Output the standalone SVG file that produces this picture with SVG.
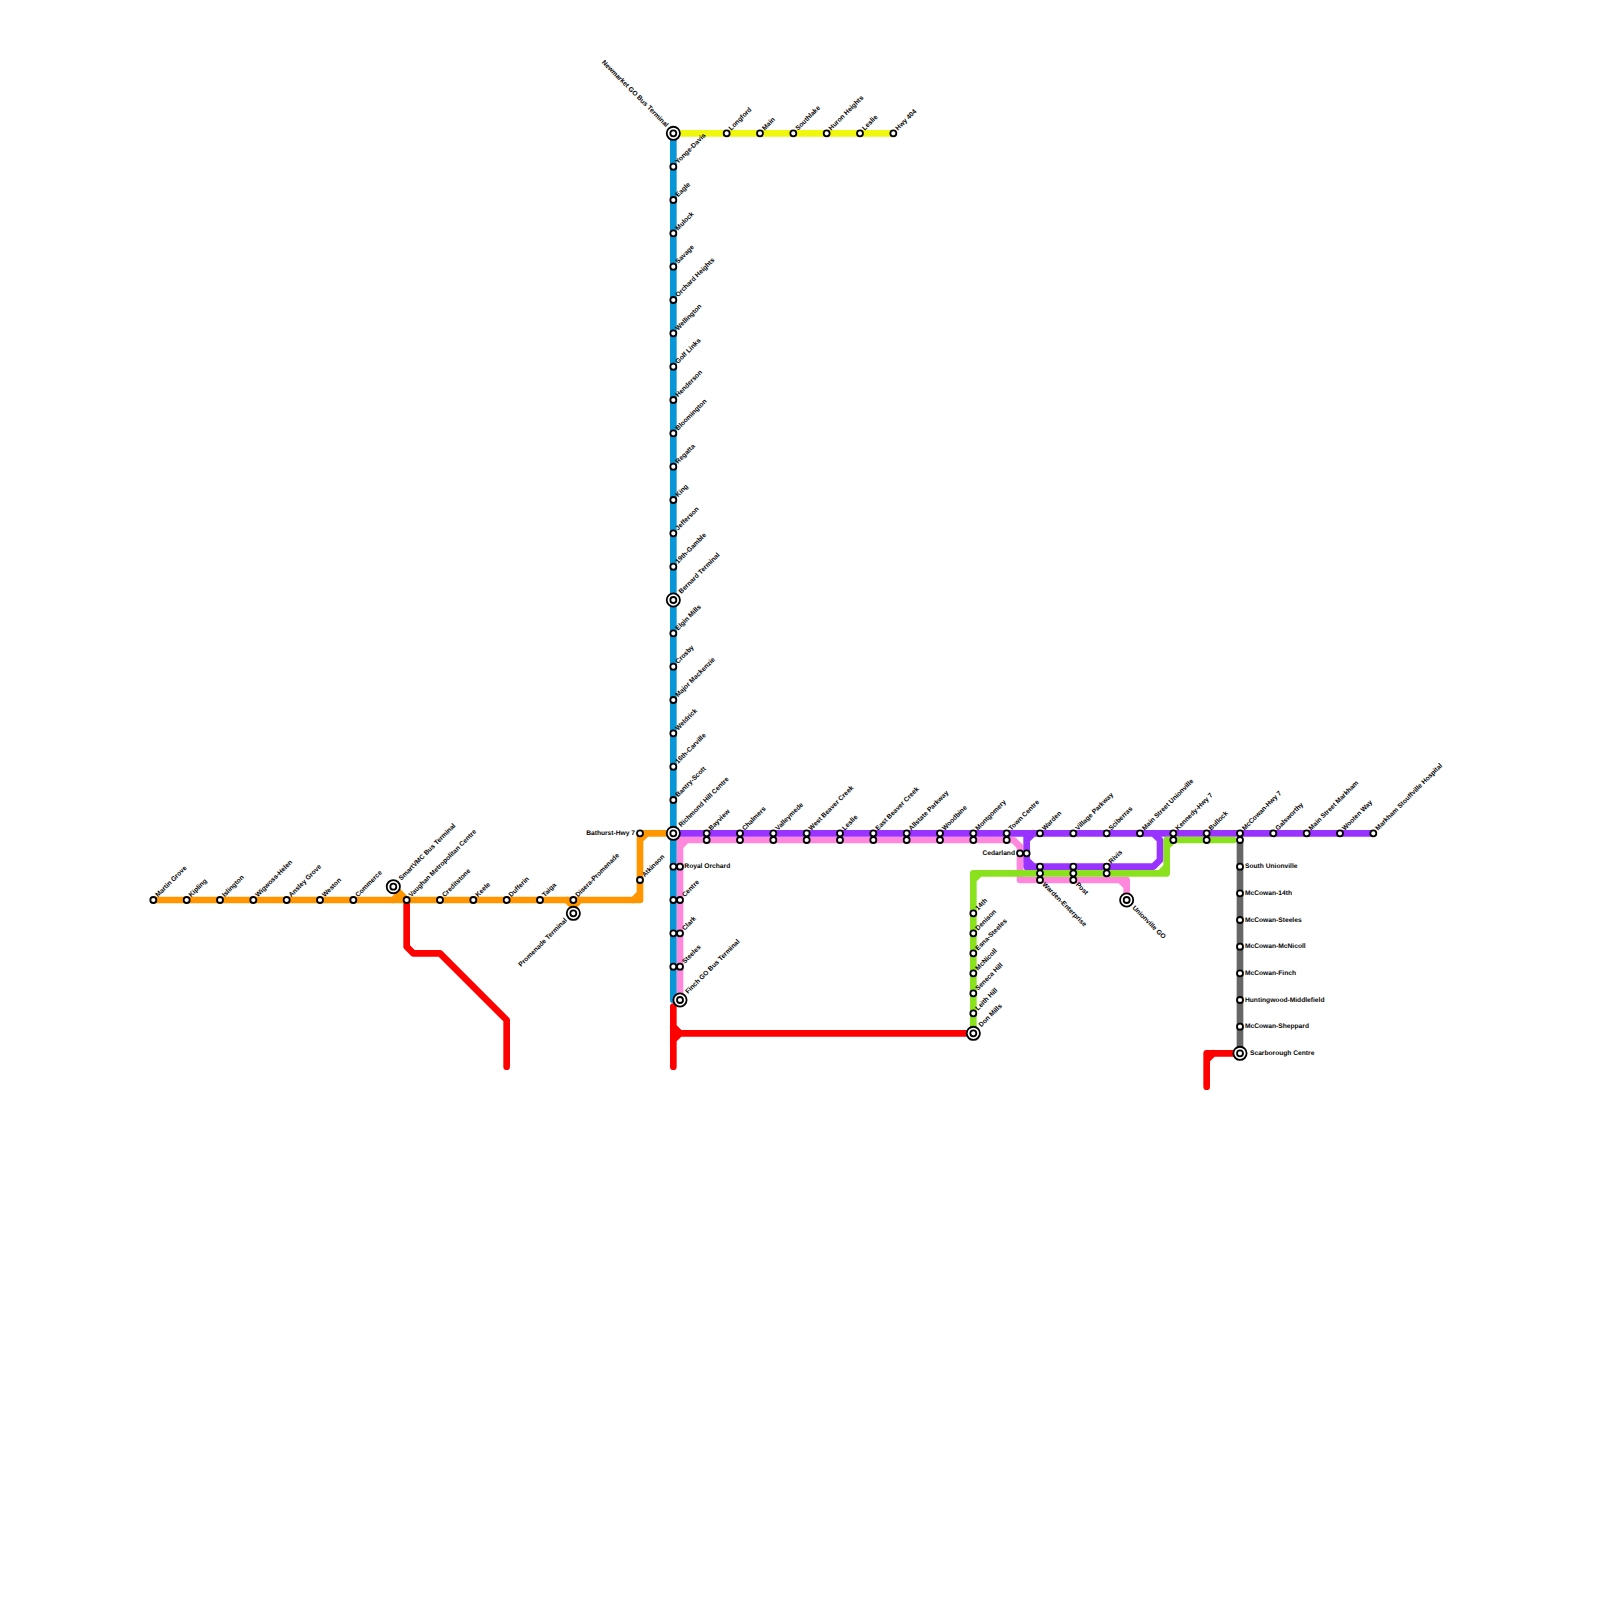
<svg xmlns="http://www.w3.org/2000/svg" width="1600" height="1600" viewBox="0 0 1600 1600">
<style>
text{font-family:"Liberation Sans",Arial,sans-serif;font-size:6.67px;font-weight:bold;fill:#000;text-rendering:geometricPrecision;opacity:.99}
.line{fill:none;stroke-width:6.67;stroke-linecap:round;stroke-linejoin:round}
.ne{transform:rotate(-45deg) translate(5.2px,1.41px)}
.nx{transform:rotate(-45deg) translate(9.9px,1.41px)}
.se{transform:rotate(45deg) translate(5px,2px)}
.sx{transform:rotate(45deg) translate(9.5px,2px)}
.nw{text-anchor:end;transform:rotate(45deg) translate(-9.5px,1px)}
.sw{text-anchor:end;transform:rotate(-45deg) translate(-9.5px,1px)}
.w{text-anchor:end;transform:translate(-5px,1.5px)}
.e{transform:translate(5px,1.5px)}
.ex{transform:translate(10px,1.5px)}
</style>
<defs>
<circle id="st" r="3" fill="#fff" stroke="#000" stroke-width="1.8"/>
<g id="ti"><circle r="6.6" fill="#fff" stroke="#000" stroke-width="1.8"/><circle r="3" fill="#fff" stroke="#000" stroke-width="1.8"/></g>
</defs>
<g id="connectors">
<path class="line" stroke="#ff0000" d="M406.67,900L406.67,946.67L413.33,953.33L440,953.33L506.67,1020L506.67,1066.67"/>
<path class="line" stroke="#ff0000" d="M673.33,1006.67L673.33,1066.67M673.33,1026.67L680,1033.33L973.33,1033.33M680,1033.33L673.33,1040"/>
<path class="line" stroke="#ff0000" d="M1240,1053.33L1213.33,1053.33L1206.67,1053.33L1206.67,1060L1213.33,1053.33L1206.67,1060L1206.67,1086.67"/>
<path class="line" stroke="#f0f70e" d="M673.33,133.33L893.33,133.33"/>
<path class="line" stroke="#ff88dd" d="M680,1000L680,846.67L680,840L686.67,840L680,846.67L686.67,840L1013.33,840L1020,846.67L1020,880L1120,880L1126.67,880L1126.67,886.67L1120,880L1126.67,886.67L1126.67,900"/>
<path class="line" stroke="#9933ff" d="M673.33,833.33L1373.33,833.33M1033.33,833.33L1026.67,840L1026.67,833.33M1026.67,840L1026.67,860L1026.67,866.67L1033.33,866.67L1026.67,860L1033.33,866.67L1153.33,866.67L1160,860L1160,840L1153.33,833.33"/>
<path class="line" stroke="#0896d7" d="M673.33,133.33L673.33,1000"/>
<path class="line" stroke="#ff9600" d="M153.33,900L633.33,900L640,900L640,893.33L633.33,900L640,893.33L640,840L640,833.33L646.67,833.33L640,840L646.67,833.33L673.33,833.33M393.33,900L400,893.33L393.33,886.67L406.67,900M566.67,900L573.33,906.67L580,900M573.33,906.67L573.33,913.33"/>
<path class="line" stroke="#8ae21f" d="M973.33,1033.33L973.33,880L973.33,873.33L980,873.33L973.33,880L980,873.33L1160,873.33L1166.67,873.33L1166.67,866.67L1160,873.33L1166.67,866.67L1166.67,846.67L1166.67,840L1173.33,840L1166.67,846.67L1173.33,840L1233.33,840"/>
<path class="line" stroke="#666666" d="M1240,843.33L1240,1053.33"/>
</g>
<g id="nodes">
<g id="n001" transform="translate(673.33 133.33)"><use href="#ti"/><text class="nw">Newmarket GO Bus Terminal</text></g>
<g id="n002" transform="translate(726.67 133.33)"><use href="#st"/><text class="ne">Longford</text></g>
<g id="n003" transform="translate(760 133.33)"><use href="#st"/><text class="ne">Main</text></g>
<g id="n004" transform="translate(793.33 133.33)"><use href="#st"/><text class="ne">Southlake</text></g>
<g id="n005" transform="translate(826.67 133.33)"><use href="#st"/><text class="ne">Huron Heights</text></g>
<g id="n006" transform="translate(860 133.33)"><use href="#st"/><text class="ne">Leslie</text></g>
<g id="n007" transform="translate(893.33 133.33)"><use href="#st"/><text class="ne">Hwy 404</text></g>
<g id="n008" transform="translate(673.33 166.67)"><use href="#st"/><text class="ne">Yonge-Davis</text></g>
<g id="n009" transform="translate(673.33 200)"><use href="#st"/><text class="ne">Eagle</text></g>
<g id="n010" transform="translate(673.33 233.33)"><use href="#st"/><text class="ne">Mulock</text></g>
<g id="n011" transform="translate(673.33 266.67)"><use href="#st"/><text class="ne">Savage</text></g>
<g id="n012" transform="translate(673.33 300)"><use href="#st"/><text class="ne">Orchard Heights</text></g>
<g id="n013" transform="translate(673.33 333.33)"><use href="#st"/><text class="ne">Wellington</text></g>
<g id="n014" transform="translate(673.33 366.67)"><use href="#st"/><text class="ne">Golf Links</text></g>
<g id="n015" transform="translate(673.33 400)"><use href="#st"/><text class="ne">Henderson</text></g>
<g id="n016" transform="translate(673.33 433.33)"><use href="#st"/><text class="ne">Bloomington</text></g>
<g id="n017" transform="translate(673.33 466.67)"><use href="#st"/><text class="ne">Regatta</text></g>
<g id="n018" transform="translate(673.33 500)"><use href="#st"/><text class="ne">King</text></g>
<g id="n019" transform="translate(673.33 533.33)"><use href="#st"/><text class="ne">Jefferson</text></g>
<g id="n020" transform="translate(673.33 566.67)"><use href="#st"/><text class="ne">19th-Gamble</text></g>
<g id="n021" transform="translate(673.33 600)"><use href="#ti"/><text class="nx">Bernard Terminal</text></g>
<g id="n022" transform="translate(673.33 633.33)"><use href="#st"/><text class="ne">Elgin Mills</text></g>
<g id="n023" transform="translate(673.33 666.67)"><use href="#st"/><text class="ne">Crosby</text></g>
<g id="n024" transform="translate(673.33 700)"><use href="#st"/><text class="ne">Major Mackenzie</text></g>
<g id="n025" transform="translate(673.33 733.33)"><use href="#st"/><text class="ne">Weldrick</text></g>
<g id="n026" transform="translate(673.33 766.67)"><use href="#st"/><text class="ne">16th-Carville</text></g>
<g id="n027" transform="translate(673.33 800)"><use href="#st"/><text class="ne">Bantry-Scott</text></g>
<g id="n028" transform="translate(673.33 833.33)"><use href="#ti"/><text class="nx">Richmond Hill Centre</text></g>
<g id="n029" transform="translate(673.33 866.67)"><use href="#st"/><use href="#st" x="6.67"/><text class="ex" x="1">Royal Orchard</text></g>
<g id="n030" transform="translate(680 900)"><use href="#st"/><use href="#st" x="-6.67"/><text class="ne">Centre</text></g>
<g id="n031" transform="translate(680 933.33)"><use href="#st"/><use href="#st" x="-6.67"/><text class="ne">Clark</text></g>
<g id="n032" transform="translate(680 966.67)"><use href="#st"/><use href="#st" x="-6.67"/><text class="ne">Steeles</text></g>
<g id="n033" transform="translate(680 1000)"><use href="#ti"/><text class="nx">Finch GO Bus Terminal</text></g>
<g id="n034" transform="translate(153.33 900)"><use href="#st"/><text class="ne">Martin Grove</text></g>
<g id="n035" transform="translate(186.67 900)"><use href="#st"/><text class="ne">Kipling</text></g>
<g id="n036" transform="translate(220 900)"><use href="#st"/><text class="ne">Islington</text></g>
<g id="n037" transform="translate(253.33 900)"><use href="#st"/><text class="ne">Wigwoss-Helen</text></g>
<g id="n038" transform="translate(286.67 900)"><use href="#st"/><text class="ne">Ansley Grove</text></g>
<g id="n039" transform="translate(320 900)"><use href="#st"/><text class="ne">Weston</text></g>
<g id="n040" transform="translate(353.33 900)"><use href="#st"/><text class="ne">Commerce</text></g>
<g id="n041" transform="translate(393.33 886.67)"><use href="#ti"/><text class="nx">SmartVMC Bus Terminal</text></g>
<g id="n042" transform="translate(406.67 900)"><use href="#st"/><text class="ne">Vaughan Metropolitan Centre</text></g>
<g id="n043" transform="translate(440 900)"><use href="#st"/><text class="ne">Creditstone</text></g>
<g id="n044" transform="translate(473.33 900)"><use href="#st"/><text class="ne">Keele</text></g>
<g id="n045" transform="translate(506.67 900)"><use href="#st"/><text class="ne">Dufferin</text></g>
<g id="n046" transform="translate(540 900)"><use href="#st"/><text class="ne">Taiga</text></g>
<g id="n047" transform="translate(573.33 900)"><use href="#st"/><text class="ne">Disera-Promenade</text></g>
<g id="n048" transform="translate(573.33 913.33)"><use href="#ti"/><text class="sw">Promenade Terminal</text></g>
<g id="n049" transform="translate(640 880)"><use href="#st"/><text class="ne">Atkinson</text></g>
<g id="n050" transform="translate(640 833.33)"><use href="#st"/><text class="w">Bathurst-Hwy 7</text></g>
<g id="n051" transform="translate(706.67 833.33)"><use href="#st"/><use href="#st" y="6.67"/><text class="ne">Bayview</text></g>
<g id="n052" transform="translate(740 833.33)"><use href="#st"/><use href="#st" y="6.67"/><text class="ne">Chalmers</text></g>
<g id="n053" transform="translate(773.33 833.33)"><use href="#st"/><use href="#st" y="6.67"/><text class="ne">Valleymede</text></g>
<g id="n054" transform="translate(806.67 833.33)"><use href="#st"/><use href="#st" y="6.67"/><text class="ne">West Beaver Creek</text></g>
<g id="n055" transform="translate(840 833.33)"><use href="#st"/><use href="#st" y="6.67"/><text class="ne">Leslie</text></g>
<g id="n056" transform="translate(873.33 833.33)"><use href="#st"/><use href="#st" y="6.67"/><text class="ne">East Beaver Creek</text></g>
<g id="n057" transform="translate(906.67 833.33)"><use href="#st"/><use href="#st" y="6.67"/><text class="ne">Allstate Parkway</text></g>
<g id="n058" transform="translate(940 833.33)"><use href="#st"/><use href="#st" y="6.67"/><text class="ne">Woodbine</text></g>
<g id="n059" transform="translate(973.33 833.33)"><use href="#st"/><use href="#st" y="6.67"/><text class="ne">Montgomery</text></g>
<g id="n060" transform="translate(1006.67 833.33)"><use href="#st"/><use href="#st" y="6.67"/><text class="ne">Town Centre</text></g>
<g id="n061" transform="translate(1020 853.33)"><use href="#st"/><use href="#st" x="6.67"/><text class="w">Cedarland</text></g>
<g id="n062" transform="translate(1040 833.33)"><use href="#st"/><text class="ne">Warden</text></g>
<g id="n063" transform="translate(1040 880)"><use href="#st"/><use href="#st" y="-6.67"/><use href="#st" y="-13.33"/><text class="se">Warden-Enterprise</text></g>
<g id="n064" transform="translate(1073.33 833.33)"><use href="#st"/><text class="ne">Village Parkway</text></g>
<g id="n065" transform="translate(1073.33 880)"><use href="#st"/><use href="#st" y="-6.67"/><use href="#st" y="-13.33"/><text class="se">Post</text></g>
<g id="n066" transform="translate(1106.67 833.33)"><use href="#st"/><text class="ne">Sciberras</text></g>
<g id="n067" transform="translate(1106.67 866.67)"><use href="#st"/><use href="#st" y="6.67"/><text class="ne">Rivis</text></g>
<g id="n068" transform="translate(1126.67 900)"><use href="#ti"/><text class="sx">Unionville GO</text></g>
<g id="n069" transform="translate(1140 833.33)"><use href="#st"/><text class="ne">Main Street Unionville</text></g>
<g id="n070" transform="translate(1173.33 833.33)"><use href="#st"/><use href="#st" y="6.67"/><text class="ne">Kennedy-Hwy 7</text></g>
<g id="n071" transform="translate(1206.67 833.33)"><use href="#st"/><use href="#st" y="6.67"/><text class="ne">Bullock</text></g>
<g id="n072" transform="translate(1240 833.33)"><use href="#st"/><use href="#st" y="6.67"/><text class="ne">McCowan-Hwy 7</text></g>
<g id="n073" transform="translate(1273.33 833.33)"><use href="#st"/><text class="ne">Galsworthy</text></g>
<g id="n074" transform="translate(1306.67 833.33)"><use href="#st"/><text class="ne">Main Street Markham</text></g>
<g id="n075" transform="translate(1340 833.33)"><use href="#st"/><text class="ne">Wooten Way</text></g>
<g id="n076" transform="translate(1373.33 833.33)"><use href="#st"/><text class="ne">Markham Stouffville Hospital</text></g>
<g id="n077" transform="translate(1240 866.67)"><use href="#st"/><text class="e">South Unionville</text></g>
<g id="n078" transform="translate(1240 893.33)"><use href="#st"/><text class="e">McCowan-14th</text></g>
<g id="n079" transform="translate(1240 920)"><use href="#st"/><text class="e">McCowan-Steeles</text></g>
<g id="n080" transform="translate(1240 946.67)"><use href="#st"/><text class="e">McCowan-McNicoll</text></g>
<g id="n081" transform="translate(1240 973.33)"><use href="#st"/><text class="e">McCowan-Finch</text></g>
<g id="n082" transform="translate(1240 1000)"><use href="#st"/><text class="e">Huntingwood-Middlefield</text></g>
<g id="n083" transform="translate(1240 1026.67)"><use href="#st"/><text class="e">McCowan-Sheppard</text></g>
<g id="n084" transform="translate(1240 1053.33)"><use href="#ti"/><text class="ex">Scarborough Centre</text></g>
<g id="n085" transform="translate(973.33 913.33)"><use href="#st"/><text class="ne">14th</text></g>
<g id="n086" transform="translate(973.33 933.33)"><use href="#st"/><text class="ne">Denison</text></g>
<g id="n087" transform="translate(973.33 953.33)"><use href="#st"/><text class="ne">Esna-Steeles</text></g>
<g id="n088" transform="translate(973.33 973.33)"><use href="#st"/><text class="ne">McNicoll</text></g>
<g id="n089" transform="translate(973.33 993.33)"><use href="#st"/><text class="ne">Seneca Hill</text></g>
<g id="n090" transform="translate(973.33 1013.33)"><use href="#st"/><text class="ne">Leith Hill</text></g>
<g id="n091" transform="translate(973.33 1033.33)"><use href="#ti"/><text class="nx">Don Mills</text></g>
</g>
</svg>
